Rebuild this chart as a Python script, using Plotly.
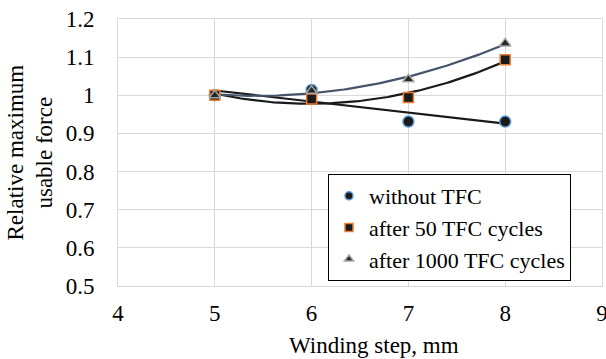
import numpy as np
import plotly.graph_objects as go

winding_step = [5, 6, 7, 8]
without_tfc = [1.0, 1.014, 0.931, 0.931]
after_50 = [1.0, 0.99, 0.994, 1.093]
after_1000 = [1.0, 1.012, 1.042, 1.136]

x_ticks = [4, 5, 6, 7, 8, 9]
y_ticks = [0.5, 0.6, 0.7, 0.8, 0.9, 1.0, 1.1, 1.2]
y_tick_text = ["0.5", "0.6", "0.7", "0.8", "0.9", "1", "1.1", "1.2"]

W, H = 606, 359
L, R, T, B = 118, 4, 19, 73
pw = W - L - R
ph = H - T - B

FONT = "Liberation Serif"
FS = 23

fig = go.Figure()

# trendlines (least-squares fits of the series)
xs = np.linspace(min(winding_step), max(winding_step), 100)
fits = [
    (without_tfc, 1, "#1a1a1a"),
    (after_50, 2, "#1a1a1a"),
    (after_1000, 2, "#44546A"),
]
for ys, deg, col in fits:
    c = np.polyfit(winding_step, ys, deg)
    fig.add_trace(go.Scatter(x=xs, y=np.polyval(c, xs), mode="lines",
                             line=dict(color=col, width=2.2),
                             showlegend=False, hoverinfo="skip"))

series = [
    ("without TFC", without_tfc, "circle", "#1a1a1a", "#5B9BD5", 11),
    ("after 50 TFC cycles", after_50, "square", "#1a1a1a", "#ED7D31", 10),
    ("after 1000 TFC cycles", after_1000, "triangle-up", "#262626", "#A5A5A5", 10),
]
for name, ys, sym, fill, edge, sz in series:
    fig.add_trace(go.Scatter(x=winding_step, y=ys, mode="markers", name=name,
                             marker=dict(symbol=sym, size=sz, color=fill,
                                         line=dict(color=edge, width=1.5)),
                             showlegend=False))
for name, ys, sym, fill, edge, sz in series:
    fig.add_trace(go.Scatter(x=[None], y=[None], mode="markers", name=name,
                             marker=dict(symbol=sym, size=8, color=fill,
                                         line=dict(color=edge, width=1.5))))

fig.update_layout(
    width=W, height=H,
    margin=dict(l=L, r=R, t=T, b=B, autoexpand=False),
    paper_bgcolor="white", plot_bgcolor="white",
    font=dict(family=FONT, size=FS, color="#000000"),
    xaxis=dict(range=[4, 9], tickvals=x_ticks, ticktext=[str(v) for v in x_ticks],
               showgrid=True, gridcolor="#d9d9d9", gridwidth=1,
               showline=True, linecolor="#d9d9d9", linewidth=1, mirror=True,
               zeroline=False, ticks="", ticklabelstandoff=6, automargin=False,
               ticklabeloverflow="allow"),
    yaxis=dict(range=[0.5, 1.2], tickvals=y_ticks, ticktext=y_tick_text,
               showgrid=True, gridcolor="#d9d9d9", gridwidth=1,
               showline=True, linecolor="#d9d9d9", linewidth=1, mirror=True,
               zeroline=False, ticks="", ticklabelstandoff=18, automargin=False,
               ticklabeloverflow="allow"),
    legend=dict(x=(328 - L) / pw, y=(286 - 281) / ph, xanchor="left", yanchor="bottom",
                bgcolor="white", bordercolor="black", borderwidth=1,
                font=dict(family=FONT, size=22, color="#000000"),
                tracegroupgap=0),
    showlegend=True,
    annotations=[
        dict(text="Relative maximum<br>usable force", textangle=-90,
             xref="paper", yref="paper", x=(30 - L) / pw, y=0.5,
             xanchor="center", yanchor="middle", showarrow=False,
             font=dict(family=FONT, size=FS, color="#000000")),
        dict(text="Winding step, mm",
             xref="paper", yref="paper", x=(374 - L) / pw, y=(T + ph - 345) / ph,
             xanchor="center", yanchor="middle", showarrow=False,
             font=dict(family=FONT, size=FS, color="#000000")),
    ],
)

fig.write_html("out.html")
